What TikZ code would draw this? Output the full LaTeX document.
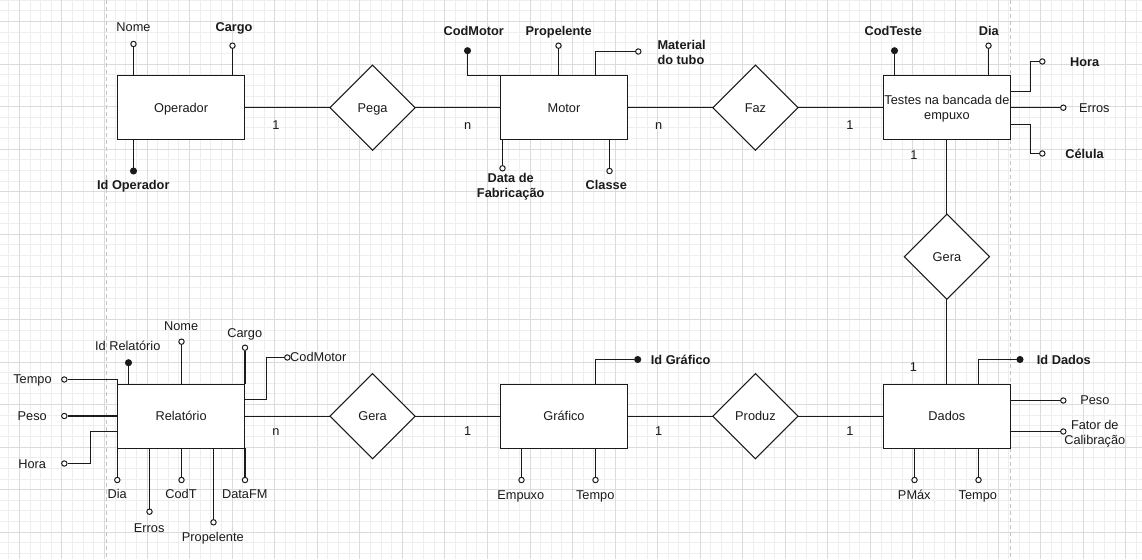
\documentclass[tikz,border=0pt]{standalone}
\usepackage{fontspec}
\setmainfont{Liberation Sans}
\usepackage{tikz}
\usetikzlibrary{positioning,shapes.geometric,calc}
\definecolor{ink}{HTML}{1A1A1A}
\definecolor{gridmin}{HTML}{EEEEEE}
\definecolor{gridmaj}{HTML}{DBDBDB}
\definecolor{pageln}{HTML}{C4C4C4}
\newcommand{\erfont}{\fontsize{12.77pt}{15.3pt}\selectfont}
\tikzset{
  entbox/.style={rectangle,draw=ink,line width=1.06pt,fill=white,text=ink,
    font=\erfont,minimum width=127.6pt,minimum height=63.8pt,inner sep=0pt,
    outer sep=0pt,text height=9.2pt,text depth=0pt},
  relbox/.style={diamond,draw=ink,line width=1.06pt,fill=white,text=ink,
    font=\erfont,minimum width=85.1pt,minimum height=85.1pt,inner sep=0pt,
    outer sep=0pt,text height=9.2pt,text depth=0pt},
  attro/.style={circle,draw=ink,line width=1pt,fill=white,inner sep=0pt,minimum size=5.4pt},
  attrk/.style={attro,fill=ink,minimum size=6pt},
  erline/.style={line width=1.06pt,draw=ink},
  attrlbl/.style={font=\erfont,text=ink,inner sep=0pt,text height=9.2pt,text depth=0pt},
  attrbf/.style={attrlbl,font=\erfont\bfseries},
  twoline/.style={align=center,text height=24.5pt,text depth=0pt},
  cardlbl/.style={attrlbl},
  minorgrid/.style={draw=gridmin,line width=1pt},
  majorgrid/.style={draw=gridmaj,line width=1pt},
  pageline/.style={draw=pageln,line width=1pt,dash pattern=on 4pt off 3pt},
}

\begin{document}
\begin{tikzpicture}[x=1pt,y=-1pt,node distance=85.1pt]
  \fill[white] (0,0) rectangle (1142,559);
  \useasboundingbox (0,0) rectangle (1142,559);
  \foreach \i in {0,...,107} \draw[minorgrid] ({8.76+\i*10.6375},0) -- ({8.76+\i*10.6375},559);
  \foreach \j in {0,...,52} \draw[minorgrid] (0,{0.33+\j*10.6375}) -- (1142,{0.33+\j*10.6375});
  \foreach \i in {0,...,26} \draw[majorgrid] ({19.4+\i*42.55},0) -- ({19.4+\i*42.55},559);
  \foreach \j in {0,...,12} \draw[majorgrid] (0,{21.6+\j*42.55}) -- (1142,{21.6+\j*42.55});
  \draw[pageline] (106.3,0) -- (106.3,559);
  \draw[pageline] (1010.7,0) -- (1010.7,559);

  \node[entbox] (op) at (181.1,107.7) {Operador};
  \node[relbox, right=of op] (pega) {Pega};
  \node[entbox, right=of pega] (mot) {Motor};
  \node[relbox, right=of mot] (faz) {Faz};
  \node[entbox, twoline, right=of faz] (tes) {Testes na bancada de\\empuxo};
  \node[relbox, below=74.5pt of tes] (gerad) {Gera};
  \node[entbox, below=of gerad] (dad) {Dados};
  \node[relbox, left=of dad] (prod) {Produz};
  \node[entbox, left=of prod] (graf) {Gráfico};
  \node[relbox, left=of graf] (gerag) {Gera};
  \node[entbox, left=of gerag] (rel) {Relatório};

  \draw[erline] (op) -- (pega);
  \draw[erline] (pega) -- (mot);
  \draw[erline] (mot) -- (faz);
  \draw[erline] (faz) -- (tes);
  \draw[erline] (tes) -- (gerad);
  \draw[erline] (gerad) -- (dad);
  \draw[erline] (dad) -- (prod);
  \draw[erline] (prod) -- (graf);
  \draw[erline] (graf) -- (gerag);
  \draw[erline] (gerag) -- (rel);

  \node[cardlbl] (c1) at (276,124.5) {1};
  \node[cardlbl] (c2) at (467.7,124.5) {n};
  \node[cardlbl] (c3) at (658.7,124.5) {n};
  \node[cardlbl] (c4) at (850,124.5) {1};
  \node[cardlbl] (c5) at (914,155) {1};
  \node[cardlbl] (c6) at (913.3,367.3) {1};
  \node[cardlbl] (c7) at (850,430.9) {1};
  \node[cardlbl] (c8) at (658.7,430.9) {1};
  \node[cardlbl] (c9) at (467.7,430.9) {1};
  \node[cardlbl] (c10) at (276,430.9) {n};

  % Operador
  \node[attro] (opnome) at (133.5,44) {};
  \node[attro] (opcargo) at (232.5,45.7) {};
  \node[attrk] (opid) at (133.5,171) {};
  \node[attrlbl] (opnomel) at (133.5,27.3) {Nome};
  \node[attrbf] (opcargol) at (234,27.3) {Cargo};
  \node[attrbf] (opidl) at (133.3,185) {Id Operador};
  \draw[erline] (op.north -| opnome) -- (opnome);
  \draw[erline] (op.north -| opcargo) -- (opcargo);
  \draw[erline] (op.south -| opid) -- (opid);

  % Motor
  \node[attrk] (motcod) at (467.5,50.7) {};
  \node[attro] (motprop) at (558.5,45.7) {};
  \node[attro] (motmat) at (638.3,51.5) {};
  \node[attro] (motfab) at (502.5,168.3) {};
  \node[attro] (motcls) at (609.5,171) {};
  \coordinate (motmatj) at ([xshift=95.3pt]mot.north west);
  \node[attrbf] (motcodl) at (473.7,30.7) {CodMotor};
  \node[attrbf] (motpropl) at (558.7,30.7) {Propelente};
  \node[attrbf, twoline, align=left, anchor=west] (motmatl) at (657.3,52.2) {Material\\do tubo};
  \node[attrbf, twoline] (motfabl) at (510.7,185.7) {Data de\\Fabricação};
  \node[attrbf] (motclsl) at (606.3,185.3) {Classe};
  \draw[erline] (mot.north west) -| (motcod);
  \draw[erline] (mot.north -| motprop) -- (motprop);
  \draw[erline] (motmatj) |- (motmat);
  \draw[erline] (mot.south -| motfab) -- (motfab);
  \draw[erline] (mot.south -| motcls) -- (motcls);

  % Testes
  \node[attrk] (tescod) at (894.5,50.7) {};
  \node[attro] (tesdia) at (988.5,45.7) {};
  \node[attro] (teshora) at (1042.3,61.5) {};
  \node[attro] (teserr) at (1063.3,107.7) {};
  \node[attro] (tescel) at (1042.3,153.5) {};
  \coordinate (teshoraj) at (1030.5,91.5);
  \coordinate (tescelj) at (1030.5,124.5);
  \node[attrbf] (tescodl) at (893.3,30.7) {CodTeste};
  \node[attrbf] (tesdial) at (988.8,30.7) {Dia};
  \node[attrbf] (teshoral) at (1084.7,61.7) {Hora};
  \node[attrlbl] (teserrl) at (1094.3,107.7) {Erros};
  \node[attrbf] (tescell) at (1084.5,153.5) {Célula};
  \draw[erline] (tes.north -| tescod) -- (tescod);
  \draw[erline] (tes.north -| tesdia) -- (tesdia);
  \draw[erline] (tes.east |- teshoraj) -- (teshoraj) |- (teshora);
  \draw[erline] (tes.east |- teserr) -- (teserr);
  \draw[erline] (tes.east |- tescelj) -- (tescelj) |- (tescel);

  % Relatorio
  \node[attrk] (relid) at (128.5,362.7) {};
  \node[attro] (relnome) at (181.5,341.7) {};
  \node[attro] (relcargo) at (245,347.7) {};
  \node[attro] (relcod) at (287.3,357.5) {};
  \node[attro] (reltempo) at (64.3,379.5) {};
  \node[attro] (relpeso) at (64.3,416) {};
  \node[attro] (relhora) at (64.3,463.5) {};
  \node[attro] (reldia) at (117.3,480) {};
  \node[attro] (relerr) at (149.5,511.7) {};
  \node[attro] (relcodt) at (181.5,480) {};
  \node[attro] (relprop) at (213.5,522.3) {};
  \node[attro] (reldfm) at (245,480) {};
  \coordinate (relcodj) at (266.5,399.5);
  \coordinate (relhoraj) at (90.5,431.5);
  \node[attrlbl] (relidl) at (127.8,346) {Id Relatório};
  \node[attrlbl] (relnomel) at (181.2,325.7) {Nome};
  \node[attrlbl] (relcargol) at (244.8,332.7) {Cargo};
  \node[attrlbl, anchor=west] (relcodl) at (290,357.3) {CodMotor};
  \node[attrlbl] (reltempol) at (32.5,379) {Tempo};
  \node[attrlbl] (relpesol) at (32.2,416) {Peso};
  \node[attrlbl] (relhoral) at (32.2,463.7) {Hora};
  \node[attrlbl] (reldial) at (117.2,494.3) {Dia};
  \node[attrlbl] (relerrl) at (149.2,527.7) {Erros};
  \node[attrlbl] (relcodtl) at (181,494.3) {CodT};
  \node[attrlbl] (relpropl) at (212.8,537.3) {Propelente};
  \node[attrlbl] (reldfml) at (244.8,494.3) {DataFM};
  \draw[erline] (rel.north -| relid) -- (relid);
  \draw[erline] (rel.north -| relnome) -- (relnome);
  \draw[erline] (rel.north -| relcargo) -- (relcargo);
  \draw[erline] (rel.east |- relcodj) -- (relcodj) |- (relcod);
  \draw[erline] (rel.north west) |- (reltempo);
  \draw[erline] (rel.west |- relpeso) -- (relpeso);
  \draw[erline] (rel.west |- relhoraj) -- (relhoraj) |- (relhora);
  \draw[erline] (rel.south -| reldia) -- (reldia);
  \draw[erline] (rel.south -| relerr) -- (relerr);
  \draw[erline] (rel.south -| relcodt) -- (relcodt);
  \draw[erline] (rel.south -| relprop) -- (relprop);
  \draw[erline] (rel.south -| reldfm) -- (reldfm);

  % Grafico
  \node[attrk] (grafid) at (637.7,359.5) {};
  \node[attro] (grafemp) at (521.5,480) {};
  \node[attro] (graftmp) at (595.5,480) {};
  \coordinate (grafidj) at ([xshift=95.3pt]graf.north west);
  \node[attrbf, anchor=west] (grafidl) at (650.7,359.7) {Id Gráfico};
  \node[attrlbl] (grafempl) at (520.8,495.3) {Empuxo};
  \node[attrlbl] (graftmpl) at (595.2,495.3) {Tempo};
  \draw[erline] (grafidj) |- (grafid);
  \draw[erline] (graf.south -| grafemp) -- (grafemp);
  \draw[erline] (graf.south -| graftmp) -- (graftmp);

  % Dados
  \node[attrk] (dadid) at (1020,359.5) {};
  \node[attro] (dadpeso) at (1063.3,400.5) {};
  \node[attro] (dadfat) at (1063.3,431.5) {};
  \node[attro] (dadpmax) at (914.5,480) {};
  \node[attro] (dadtmp) at (978.5,480) {};
  \coordinate (dadidj) at ([xshift=95.4pt]dad.north west);
  \node[attrbf, anchor=west] (dadidl) at (1036.7,359.7) {Id Dados};
  \node[attrlbl] (dadpesol) at (1094.8,400) {Peso};
  \node[attrlbl, twoline] (dadfatl) at (1094.8,432.3) {Fator de\\Calibração};
  \node[attrlbl] (dadpmaxl) at (914.3,495.3) {PMáx};
  \node[attrlbl] (dadtmpl) at (977.8,495.3) {Tempo};
  \draw[erline] (dadidj) |- (dadid);
  \draw[erline] (dad.east |- dadpeso) -- (dadpeso);
  \draw[erline] (dad.east |- dadfat) -- (dadfat);
  \draw[erline] (dad.south -| dadpmax) -- (dadpmax);
  \draw[erline] (dad.south -| dadtmp) -- (dadtmp);
\end{tikzpicture}
\end{document}
